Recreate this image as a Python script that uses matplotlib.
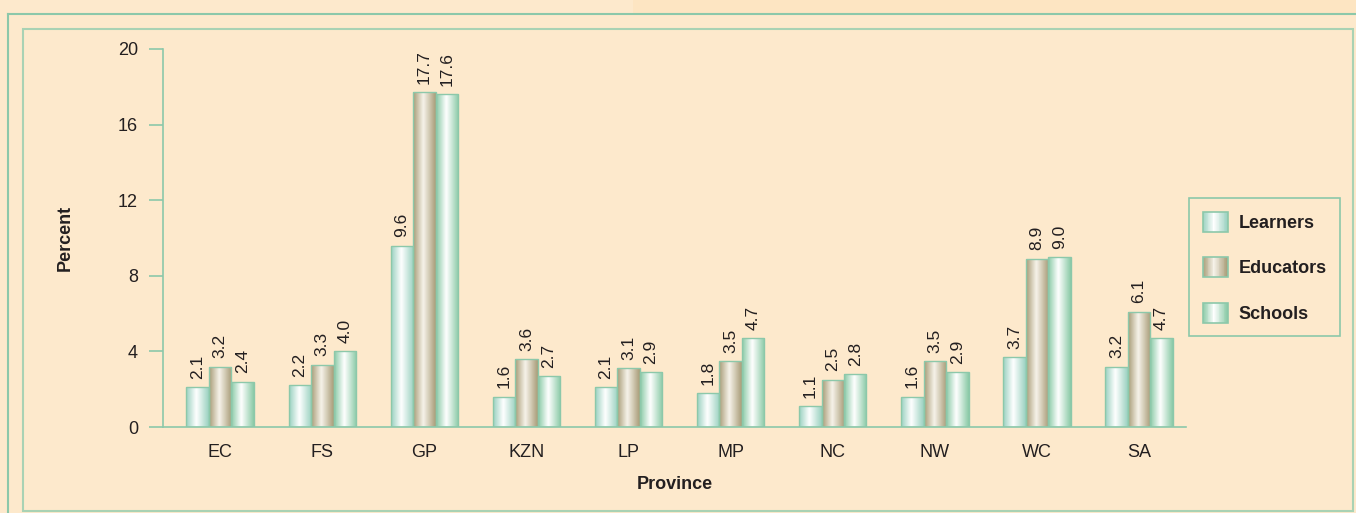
import numpy as np
import matplotlib
matplotlib.use('Agg')
import matplotlib.pyplot as plt
from matplotlib.colors import LinearSegmentedColormap
from matplotlib.legend_handler import HandlerBase
from matplotlib.patches import Rectangle
from matplotlib.lines import Line2D

provinces = ['EC', 'FS', 'GP', 'KZN', 'LP', 'MP', 'NC', 'NW', 'WC', 'SA']
learners = [2.1, 2.2, 9.6, 1.6, 2.1, 1.8, 1.1, 1.6, 3.7, 3.2]
educators = [3.2, 3.3, 17.7, 3.6, 3.1, 3.5, 2.5, 3.5, 8.9, 6.1]
schools = [2.4, 4.0, 17.6, 2.7, 2.9, 4.7, 2.8, 2.9, 9.0, 4.7]
series_names = ['Learners', 'Educators', 'Schools']
yticks = [0, 4, 8, 12, 16, 20]

bg = '#fde9cc'
teal = '#8cc8aa'
text_col = '#231f20'
shades = [('#9ad1c0', '#ffffff'), ('#a89c77', '#f7f3ea'), ('#8acaa6', '#ffffff')]
fs = 13

plt.rcParams['font.family'] = ['Liberation Sans', 'DejaVu Sans']

fig = plt.figure(figsize=(13.56, 5.13), dpi=100, facecolor=bg)
ax = fig.add_axes([163 / 1356, 1 - 427 / 513, 1023 / 1356, 378 / 513])
ax.set_facecolor('none')


def make_cmap(edge, centre):
    return LinearSegmentedColormap.from_list('g', [(0, edge), (0.45, centre), (1, edge)])


def gradient_bar(rect, cmap):
    x, y = rect.get_x(), rect.get_y()
    w, h = rect.get_width(), rect.get_height()
    grad = np.linspace(0, 1, 64).reshape(1, -1)
    im = ax.imshow(grad, cmap=cmap, extent=(x, x + w, y, y + h),
                   aspect='auto', zorder=2, interpolation='bicubic')
    im.set_clip_path(rect)


class GradientHandler(HandlerBase):
    def __init__(self, cmap):
        super().__init__()
        self.cmap = cmap

    def create_artists(self, legend, orig_handle, xdescent, ydescent,
                       width, height, fontsize, trans):
        n = 30
        arts = []
        for i in range(n):
            r = Rectangle((-xdescent + width * i / n, -ydescent), width / n + 0.3, height,
                          facecolor=self.cmap(i / (n - 1)), edgecolor='none', transform=trans)
            arts.append(r)
        arts.append(Rectangle((-xdescent, -ydescent), width, height, fill=False,
                              edgecolor=teal, lw=1.2, transform=trans))
        return arts


x = np.arange(len(provinces))
w = 0.22
handles = []
handler_map = {}
for k, vals in enumerate([learners, educators, schools]):
    cmap = make_cmap(*shades[k])
    bars = ax.bar(x + (k - 1) * w, vals, w, facecolor='none', edgecolor=teal,
                  linewidth=1, zorder=3, label=series_names[k])
    for rect, v in zip(bars, vals):
        gradient_bar(rect, cmap)
        ax.annotate(f'{v:.1f}', (rect.get_x() + rect.get_width() / 2, v),
                    xytext=(0, 6), textcoords='offset points', rotation=90,
                    ha='center', va='bottom', fontsize=12.5, color=text_col)
    handles.append(bars)
    handler_map[bars] = GradientHandler(cmap)

ax.set_xlim(-0.56, len(provinces) - 0.54)
ax.set_ylim(0, 20)
ax.set_yticks(yticks)
ax.set_xticks(x)
ax.set_xticklabels(provinces)
ax.tick_params(axis='x', length=0, pad=12, labelsize=fs, labelcolor=text_col)
ax.tick_params(axis='y', length=10, color=teal, width=1.2, pad=8,
               labelsize=fs, labelcolor=text_col)
for s in ['top', 'right']:
    ax.spines[s].set_visible(False)
for s in ['left', 'bottom']:
    ax.spines[s].set_color(teal)
    ax.spines[s].set_linewidth(1.2)

ax.set_ylabel('Percent', fontsize=fs, fontweight='bold', color=text_col, labelpad=32)
ax.set_xlabel('Province', fontsize=fs, fontweight='bold', color=text_col, labelpad=11)

leg = ax.legend(handles=handles, labels=series_names, handler_map=handler_map,
                loc='upper left', bbox_to_anchor=(1189 / 1356, 1 - 198 / 513),
                bbox_transform=fig.transFigure, frameon=True, fancybox=False,
                edgecolor=teal, facecolor=bg, framealpha=1,
                handlelength=1.4, handleheight=1.35, labelspacing=1.4,
                borderpad=0.75, handletextpad=0.6, borderaxespad=0,
                prop={'weight': 'bold', 'size': fs})
for t in leg.get_texts():
    t.set_color(text_col)
leg.get_frame().set_linewidth(1.2)

# decorative frame lines
W, H = 1356, 513
fig.add_artist(Rectangle((633 / W, 1 - 14 / H), 1, 14 / H, transform=fig.transFigure,
                         facecolor='#fde5c2', edgecolor='none', zorder=0))
fig.add_artist(Line2D([8 / W, 1], [1 - 14 / H, 1 - 14 / H], transform=fig.transFigure,
                      color=teal, lw=1.5))
fig.add_artist(Line2D([8 / W, 8 / W], [0, 1 - 14 / H], transform=fig.transFigure,
                      color=teal, lw=1.5))
fig.add_artist(Rectangle((23 / W, 2 / H), 1330 / W, 482 / H, transform=fig.transFigure,
                         fill=False, edgecolor='#a9d2b4', lw=1.5))

fig.savefig('out.png', dpi=100, facecolor=bg)
